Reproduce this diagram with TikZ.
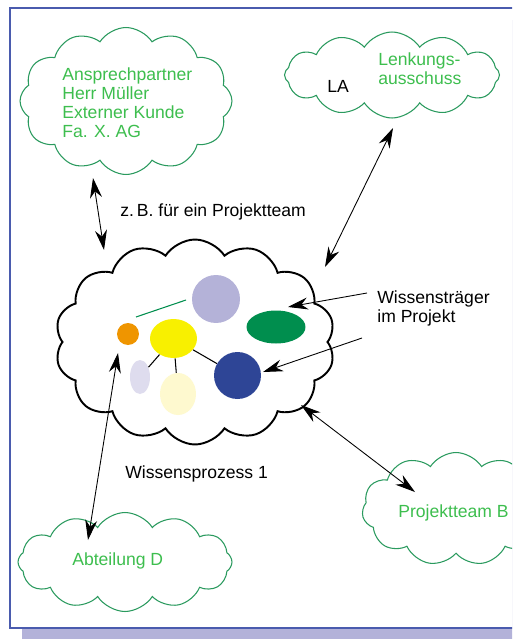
\documentclass[tikz,border=0pt]{standalone}
\usepackage{fontspec}
\setmainfont{Liberation Sans}
\usetikzlibrary{shapes.symbols,shapes.geometric,arrows.meta}

\definecolor{rahmenblau}{HTML}{4A5BAE}
\definecolor{schatten}{HTML}{B3B2D9}
\definecolor{wolkengruen}{HTML}{2A9A5E}
\definecolor{textgruen}{HTML}{3DBE4E}
\definecolor{lila}{HTML}{B4B2D8}
\definecolor{dunkelgruen}{HTML}{008E4E}
\definecolor{orange}{HTML}{EF9500}
\definecolor{gelb}{HTML}{F8F000}
\definecolor{helllila}{HTML}{DEDCEE}
\definecolor{hellgelb}{HTML}{FEF9CF}
\definecolor{blau}{HTML}{2E4596}

\begin{document}
\begin{tikzpicture}
		% Pixel coordinates, y runs downwards
		[x=0.02cm, y=-0.02cm,
		wolke/.style={cloud, cloud ignores aspect, cloud puff arc=115, draw=wolkengruen, line width=0.6pt, inner sep=0pt},
		gruentext/.style={text=textgruen, font=\fontsize{10}{10.8}\selectfont, inner sep=0pt, align=left},
		schwarztext/.style={text=black, font=\fontsize{10}{10.8}\selectfont, inner sep=0pt, align=left},
		traeger/.style={ellipse, inner sep=0pt, draw=none},
		pfeil/.style={{Stealth[length=4mm,width=2.4mm]}-{Stealth[length=4mm,width=2.4mm]}, line width=0.5pt},
		einpfeil/.style={-{Stealth[length=4mm,width=2.4mm]}, line width=0.5pt}]
	
		\clip (0,0) rectangle (512,639);
		
		% Frame with shadow
		\fill[schatten] (22,20) rectangle (540,639);
		\filldraw[fill=white, draw=rahmenblau, line width=0.8pt] (10,8) rectangle (530,628);
		
		% The clouds
		\node[wolke, cloud puffs=12, minimum width=4.24cm, minimum height=2.94cm] (ansprech) at (126,101) {};
		\node[wolke, cloud puffs=12, minimum width=4.3cm, minimum height=1.72cm] (lenkung) at (392,75) {};
		\node[wolke, cloud puffs=11, minimum width=3.76cm, minimum height=2.26cm] (teamb) at (456,509) {};
		\node[wolke, cloud puffs=12, minimum width=4.28cm, minimum height=1.98cm] (abteilung) at (125,562) {};
		\node[wolke, cloud puffs=14, draw=black, line width=1.1pt, minimum width=5.6cm, minimum height=4.1cm] (zentral) at (195,342) {};
		
		% Texts in the clouds
		\node[gruentext, anchor=north west] (ansprechtext) at (62,67) {Ansprechpartner\\Herr Müller\\Externer Kunde\\Fa. X. AG};
		\node[schwarztext, anchor=base west] (la) at (327,92) {LA};
		\node[gruentext, anchor=north west] (lenkungtext) at (378,52) {Lenkungs-\\ausschuss};
		\node[gruentext, anchor=base west] (teambtext) at (398,517) {Projektteam B};
		\node[gruentext, anchor=base west] (abteilungtext) at (72,565) {Abteilung D};
		
		% Free texts
		\node[schwarztext, anchor=base west] (projektteam) at (120,216) {z.\,B. für ein Projektteam};
		\node[schwarztext, anchor=north west] (wissenstraeger) at (377,290) {Wissensträger\\im Projekt};
		\node[schwarztext, anchor=base west] (prozess) at (125,478) {Wissensprozess 1};
		
		% The bearers of knowledge
		\node[traeger, fill=lila, minimum width=0.96cm, minimum height=0.96cm] (lila) at (216,299) {};
		\node[traeger, fill=dunkelgruen, minimum width=1.18cm, minimum height=0.66cm] (gruen) at (276,327) {};
		\node[traeger, fill=orange, minimum width=0.44cm, minimum height=0.44cm] (orange) at (128,334) {};
		\node[traeger, fill=gelb, minimum width=0.94cm, minimum height=0.78cm] (gelb) at (173.5,338.5) {};
		\node[traeger, fill=helllila, minimum width=0.4cm, minimum height=0.68cm] (helllila) at (140,377) {};
		\node[traeger, fill=hellgelb, minimum width=0.72cm, minimum height=0.84cm] (hellgelb) at (178,394) {};
		\node[traeger, fill=blau, minimum width=0.94cm, minimum height=0.94cm] (blau) at (237.5,375.5) {};
		
		% Links between them
		\draw[line width=0.6pt] (gelb) -- (helllila);
		\draw[line width=0.6pt] (gelb) -- (hellgelb);
		\draw[line width=0.6pt] (gelb) -- (blau);
		\coordinate (g1) at (136,317);
		\coordinate (g2) at (186,300);
		\draw[dunkelgruen, line width=0.6pt] (g1) -- (g2);
		
		% End points of the arrows
		\coordinate (a1) at (93,178);
		\coordinate (a2) at (104,250);
		\coordinate (l1) at (393,128);
		\coordinate (l2) at (325,267);
		\coordinate (w1) at (367,293);
		\coordinate (w2) at (288,307);
		\coordinate (w3) at (362,338);
		\coordinate (w4) at (263,372);
		\coordinate (b1) at (301,405);
		\coordinate (b2) at (415,492);
		\coordinate (d1) at (118,353);
		\coordinate (d2) at (88,540);
		
		\draw[pfeil] (a1) -- (a2);
		\draw[pfeil] (l1) -- (l2);
		\draw[einpfeil] (w1) -- (w2);
		\draw[einpfeil] (w3) -- (w4);
		\draw[pfeil] (b1) -- (b2);
		\draw[pfeil] (d1) -- (d2);
	\end{tikzpicture}
\end{document}
